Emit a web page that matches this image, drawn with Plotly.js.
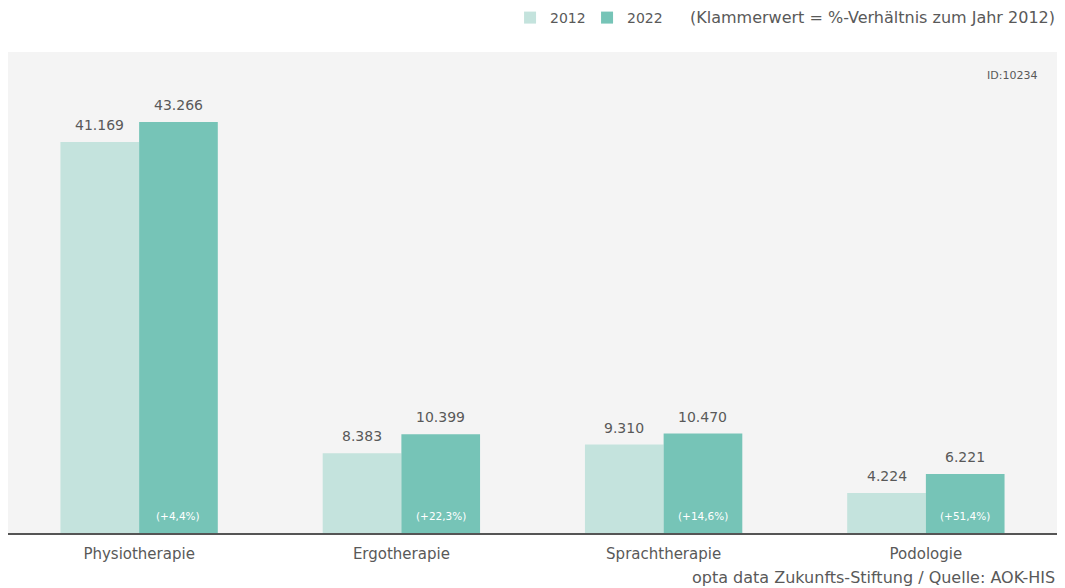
<!DOCTYPE html>
<html>
<head>
<meta charset="utf-8">
<script src="https://cdn.plot.ly/plotly-3.0.1.min.js"></script>
<style>html,body{margin:0;padding:0;background:#fff;}#chart{width:1065px;height:588px;}</style>
</head>
<body>
<div id="chart"></div>
<script>
const categories = ["Physiotherapie", "Ergotherapie", "Sprachtherapie", "Podologie"];
const values2012 = [41169, 8383, 9310, 4224];
const values2022 = [43266, 10399, 10470, 6221];
const changeLabels = ["(+4,4%)", "(+22,3%)", "(+14,6%)", "(+51,4%)"];
const seriesNames = ["2012", "2022"];

const FONT = "DejaVu Sans, sans-serif";
const TXT = "#595959";

function fmt(v) { return String(v).replace(/\B(?=(\d{3})+(?!\d))/g, "."); }

const traces = [
  {
    type: "bar", name: seriesNames[0], x: categories, y: values2012,
    marker: {color: "#c4e3dd"}, hoverinfo: "skip"
  },
  {
    type: "bar", name: seriesNames[1], x: categories, y: values2022,
    marker: {color: "#76c4b7"}, hoverinfo: "skip"
  }
];

const annotations = [];
[values2012, values2022].forEach((vals, s) => {
  vals.forEach((v, i) => {
    annotations.push({
      xref: "x", yref: "y", x: i + (s === 0 ? -0.15 : 0.15), y: v,
      yanchor: "bottom", yshift: 7, text: fmt(v), showarrow: false,
      font: {family: FONT, size: 14, color: TXT}
    });
  });
});
changeLabels.forEach((t, i) => annotations.push({
  xref: "x", yref: "y", x: i + 0.15, y: 0, yanchor: "middle", yshift: 17,
  text: t, showarrow: false, font: {family: FONT, size: 10.5, color: "#ffffff"}
}));
annotations.push({
  xref: "paper", yref: "paper", x: 1, y: 1.0707, xanchor: "right", yanchor: "middle",
  text: "(Klammerwert = %-Verhältnis zum Jahr 2012)", showarrow: false,
  font: {family: FONT, size: 16, color: TXT}
});
annotations.push({
  xref: "paper", yref: "paper", x: 0.9825, y: 0.952, xanchor: "right", yanchor: "middle",
  text: "ID:10234", showarrow: false, font: {family: FONT, size: 11, color: TXT}
});
annotations.push({
  xref: "paper", yref: "paper", x: 1, y: -0.092, xanchor: "right", yanchor: "middle",
  text: "opta data Zukunfts-Stiftung / Quelle: AOK-HIS", showarrow: false,
  font: {family: FONT, size: 16, color: TXT}
});

const layout = {
  width: 1065, height: 588,
  margin: {l: 8, r: 8, t: 52, b: 55, pad: 0, autoexpand: false},
  paper_bgcolor: "#ffffff", plot_bgcolor: "#f4f4f4",
  separators: ",.",
  font: {family: FONT, size: 15, color: TXT},
  barmode: "group", bargap: 0.4, bargroupgap: 0,
  showlegend: true,
  legend: {
    orientation: "h", x: 0.4786, xanchor: "left", y: 1.0707, yanchor: "middle",
    entrywidth: 32, entrywidthmode: "pixels",
    font: {family: FONT, size: 14, color: TXT}, bgcolor: "rgba(0,0,0,0)"
  },
  xaxis: {
    type: "category", showgrid: false, zeroline: false,
    showline: true, linecolor: "#555555", linewidth: 2, ticks: "",
    ticklabelstandoff: 6,
    tickfont: {family: FONT, size: 15, color: TXT}, fixedrange: true
  },
  yaxis: {
    range: [0, 50636], showgrid: false, zeroline: false, showticklabels: false,
    showline: false, fixedrange: true
  },
  annotations: annotations
};

Plotly.newPlot("chart", traces, layout, {displayModeBar: false, staticPlot: true});
</script>
</body>
</html>
